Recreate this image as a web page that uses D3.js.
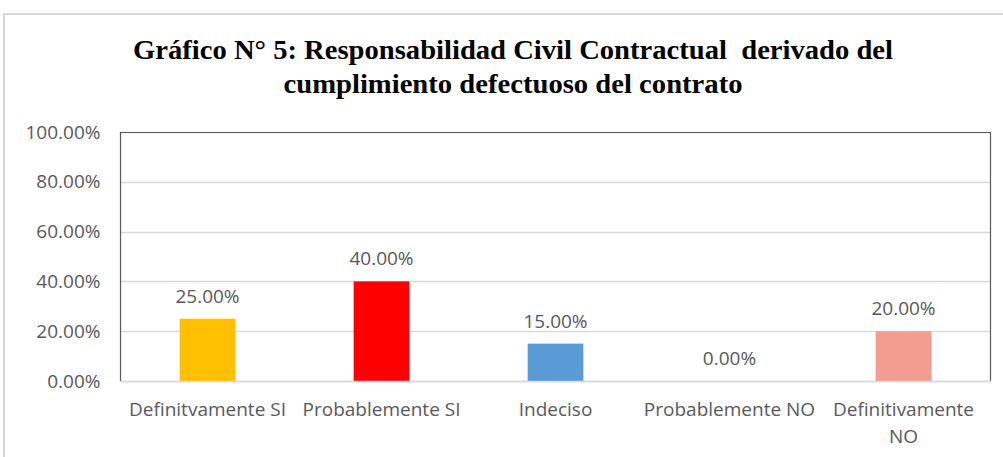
<!DOCTYPE html>
<html>
<head>
<meta charset="utf-8">
<script src="https://cdn.jsdelivr.net/npm/d3@7"></script>
<style>
    body { margin: 0; background: #fff; }
    svg { display: block; }
</style>
</head>
<body>
<svg id="chart" width="1003" height="457"></svg>
<script>
"use strict";

// Data
var categories = ["Definitvamente SI", "Probablemente SI", "Indeciso", "Probablemente NO", "Definitivamente NO"];
var values = [0.25, 0.40, 0.15, 0.00, 0.20];
var barColors = ["#FFC000", "#FF0000", "#5B9BD5", "#A5A5A5", "#F19D8F"];
var yTicks = [0, 0.2, 0.4, 0.6, 0.8, 1.0];
var titleLines = [
    "Gráfico N° 5: Responsabilidad Civil Contractual  derivado del",
    "cumplimiento defectuoso del contrato"
];
var titleWidths = [760, 459];

var svg = d3.select("#chart");

var plot = {left: 120.5, top: 132, right: 990.5, bottom: 381};
var labelFont = "'Open Sans', sans-serif";
var labelSize = "19px";

// Outer chart frame
svg.append("rect")
    .attr("x", 4)
    .attr("y", 14)
    .attr("width", 1020)
    .attr("height", 470)
    .attr("fill", "#fff")
    .attr("stroke", "#d9d9d9")
    .attr("stroke-width", 2)
;

// Title
svg.append("g")
    .selectAll("text")
    .data(titleLines)
    .join("text")
    .attr("x", 513)
    .attr("y", function(d, i) { return 59 + i * 34; })
    .attr("text-anchor", "middle")
    .attr("textLength", function(d, i) { return titleWidths[i]; })
    .attr("lengthAdjust", "spacingAndGlyphs")
    .style("font-family", "'Liberation Serif', 'Times New Roman', serif")
    .style("font-weight", "bold")
    .style("font-size", "28px")
    .style("white-space", "pre")
    .style("fill", "#000")
    .text(function(d) { return d; })
;

var x = d3.scaleBand()
    .domain(categories)
    .range([plot.left, plot.right])
    .paddingInner(0.68)
    .paddingOuter(0.34)
;

var y = d3.scaleLinear()
    .domain([0, 1])
    .range([plot.bottom, plot.top])
;

// Gridlines
svg.append("g")
    .selectAll("line")
    .data(yTicks)
    .join("line")
    .attr("x1", plot.left)
    .attr("x2", plot.right)
    .attr("y1", function(d) { return Math.round(y(d)) + 0.5; })
    .attr("y2", function(d) { return Math.round(y(d)) + 0.5; })
    .attr("stroke", "#d9d9d9")
    .attr("stroke-width", 1.5)
;

// Plot area border (top, left, right)
svg.append("path")
    .attr("d", "M" + plot.left + "," + plot.bottom + "V" + (plot.top + 0.5) + "H" + plot.right + "V" + plot.bottom)
    .attr("fill", "none")
    .attr("stroke", "#595959")
    .attr("stroke-width", 1.2)
;

// Bars
svg.append("g")
    .selectAll("rect")
    .data(values)
    .join("rect")
    .attr("x", function(d, i) { return x(categories[i]); })
    .attr("y", function(d) { return y(d); })
    .attr("width", x.bandwidth())
    .attr("height", function(d) { return y(0) - y(d); })
    .attr("fill", function(d, i) { return barColors[i]; })
;

// Value labels
svg.append("g")
    .selectAll("text")
    .data(values)
    .join("text")
    .attr("x", function(d, i) { return x(categories[i]) + x.bandwidth() / 2; })
    .attr("y", function(d) { return y(d) - 16; })
    .attr("text-anchor", "middle")
    .style("font-family", labelFont)
    .style("font-size", labelSize)
    .style("fill", "#595959")
    .text(function(d) { return d3.format(".2%")(d); })
;

// Y axis
var yAxis = svg.append("g")
    .attr("transform", "translate(" + plot.left + ",0)")
    .call(d3.axisLeft(y).tickValues(yTicks).tickSize(0).tickPadding(20).tickFormat(d3.format(".2%")))
;
yAxis.select(".domain").remove();
yAxis.selectAll("text")
    .style("font-family", labelFont)
    .style("font-size", labelSize)
    .style("fill", "#595959")
;

// X axis
var xAxis = svg.append("g")
    .attr("transform", "translate(0," + plot.bottom + ")")
    .call(d3.axisBottom(x).tickSize(0).tickPadding(22))
;
xAxis.select(".domain")
    .attr("stroke", "#d9d9d9")
    .attr("stroke-width", 1.5)
;
xAxis.selectAll("text")
    .style("font-family", labelFont)
    .style("font-size", labelSize)
    .style("fill", "#595959")
    .call(wrap, x.step() - 2)
;

// Wrap long category labels on spaces
function wrap(texts, width) {
    texts.each(function() {
        var text = d3.select(this);
        var words = text.text().split(/\s+/);
        var yPos = text.attr("y");
        var dy = parseFloat(text.attr("dy"));
        var line = [];
        var lineNumber = 0;
        text.text(null);
        var tspan = text.append("tspan").attr("x", 0).attr("y", yPos).attr("dy", dy + "em");
        words.forEach(function(word) {
            line.push(word);
            tspan.text(line.join(" "));
            if (tspan.node().getComputedTextLength() > width && line.length > 1) {
                line.pop();
                tspan.text(line.join(" "));
                line = [word];
                lineNumber++;
                tspan = text.append("tspan")
                    .attr("x", 0)
                    .attr("y", yPos)
                    .attr("dy", (lineNumber * 1.4 + dy) + "em")
                    .text(word);
            }
        });
    });
}
</script>
</body>
</html>
